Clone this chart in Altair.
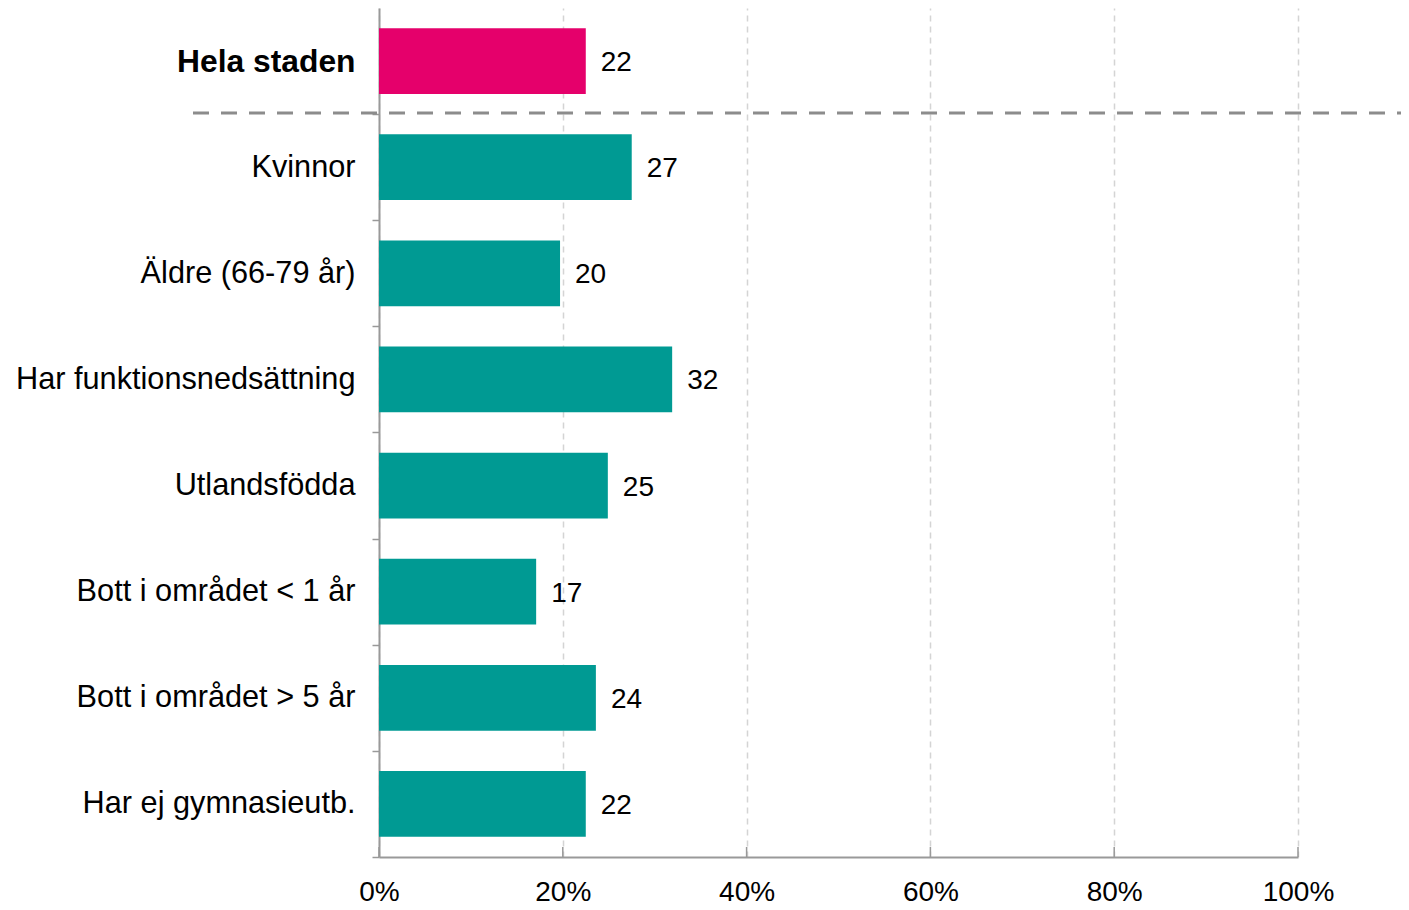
import altair as alt
import pandas as pd

categories = ["Hela staden", "Kvinnor", "Äldre (66-79 år)", "Har funktionsnedsättning",
              "Utlandsfödda", "Bott i området < 1 år", "Bott i området > 5 år", "Har ej gymnasieutb."]
values = [22.5, 27.5, 19.7, 31.9, 24.9, 17.1, 23.6, 22.5]
labels = ["22", "27", "20", "32", "25", "17", "24", "22"]
groups = ["total", "sub", "sub", "sub", "sub", "sub", "sub", "sub"]
x_ticks = [0, 20, 40, 60, 80, 100]

df = pd.DataFrame({"cat": categories, "val": values, "lab": labels, "grp": groups})
ticks_df = pd.DataFrame({"t": x_ticks})

FONT = "Liberation Sans"

y_enc = alt.Y("cat:N", sort=categories,
              scale=alt.Scale(paddingInner=0.38, paddingOuter=0.19),
              axis=alt.Axis(title=None, tickSize=7, tickColor="#999999",
                            tickOffset=53, labelOffset=-53,
                            tickWidth=1.5, domainColor="#999999", domainWidth=2,
                            labelFont=FONT, labelColor="#000000",
                            labelPadding=17, labelLimit=400,
                            labelFontSize=alt.ExprRef("datum.value == 'Hela staden' ? 31.8 : 30.7"),
                            labelFontWeight=alt.ExprRef("datum.value == 'Hela staden' ? 'bold' : 'normal'")))

x_enc = alt.X("val:Q", scale=alt.Scale(domain=[0, 100], nice=False),
              axis=alt.Axis(title=None, values=x_ticks, labelExpr="datum.value + '%'",
                            labelFont=FONT, labelFontSize=28, labelColor="#000000",
                            labelFlush=False, labelOverlap=False,
                            labelPadding=21, tickSize=0, domainColor="#999999", domainWidth=2,
                            grid=True, gridDash=[6, 5], gridColor="#d4d4d4", gridWidth=1.5))

bars = alt.Chart(df).mark_bar().encode(
    x=x_enc, y=y_enc,
    color=alt.Color("grp:N", scale=alt.Scale(domain=["total", "sub"], range=["#e5006b", "#009a93"]),
                    legend=None),
)

text = alt.Chart(df).mark_text(align="left", baseline="middle", dx=15, dy=2,
                               font=FONT, fontSize=28, color="#000000").encode(
    x="val:Q", y=alt.Y("cat:N", sort=categories), text="lab:N")

xticks = alt.Chart(ticks_df).mark_rule(color="#999999", strokeWidth=1.5).encode(
    x=alt.X("t:Q"), y=alt.value(839), y2=alt.value(849))

divider = alt.Chart(pd.DataFrame({"d": [0]})).mark_rule(
    color="#8c8c8c", strokeWidth=3, strokeDash=[16, 12]).encode(
    x=alt.value(-186), x2=alt.value(1022), y=alt.value(105))

chart = alt.layer(bars, text, xticks, divider).properties(
    width=919, height=849,
    autosize=alt.AutoSizeParams(type="none"),
    padding={"left": 371, "top": 0, "right": 103, "bottom": 53},
).configure_view(stroke=None)

chart.save("out.html", embed_options={"renderer": "svg", "actions": False})
